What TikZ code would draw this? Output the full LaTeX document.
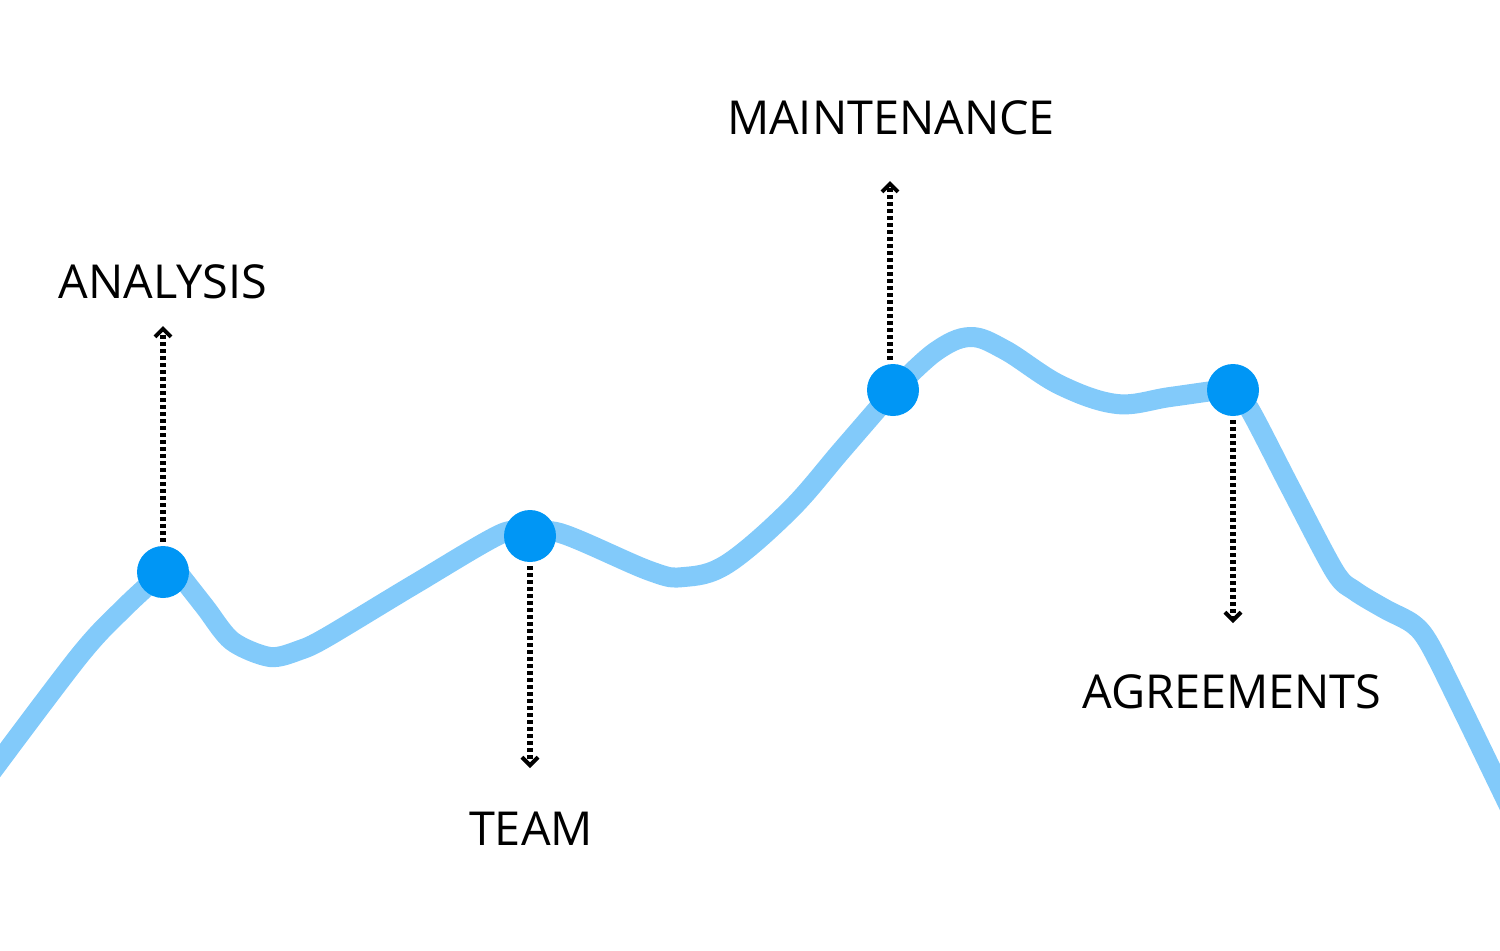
\documentclass[tikz,border=0pt]{standalone}
\usepackage{fontspec}
\setmainfont{Open Sans}
\usetikzlibrary{arrows.meta}
\definecolor{curveblue}{HTML}{82CAFA}
\definecolor{dotblue}{HTML}{0096F5}
\tikzset{
  curve/.style={draw=curveblue, line width=10pt, line join=round},
  milestone/.style={circle, fill=dotblue, minimum size=26pt, inner sep=0pt},
  pointer/.style={line width=2.6pt, dash pattern=on 1.9pt off 1.6pt, -{Straight Barb[length=4pt,width=8pt,line width=2pt]}},
  lbl/.style={font=\fontsize{23.4}{28}\selectfont, text=black, inner sep=0pt}
}
\begin{document}
\begin{tikzpicture}[x=0.5pt,y=-0.5pt]
\useasboundingbox (0,0) rectangle (1500,950);
\begin{scope}
\clip (0,0) rectangle (1500,950);
\draw[curve] plot[smooth, tension=0.55] coordinates {
 (-10,774) (80,655) (125,607) (163,572)};
\draw[curve] plot[smooth, tension=0.5] coordinates {
 (176,570) (205,607) (232,641) (270,657) (300,650) (327,637) (415,584) (503,533) (530,536)};
\draw[curve] plot[smooth, tension=0.6] coordinates {
 (530,536) (560,533) (650,571) (684,577) (727,564)
 (790,510) (842,450) (893,391)};
\draw[curve] plot[smooth, tension=0.6] coordinates {
 (893,391) (935,352) (970,337) (1005,350) (1060,385) (1117,404)
 (1170,397) (1233,388)};
\draw[curve] plot[smooth, tension=0.5] coordinates {
 (1233,390) (1250,410) (1290,487) (1335,572) (1355,591) (1385,609) (1413,624)
 (1430,645) (1465,715) (1510,808)};
\end{scope}
\node[milestone] (a) at (163,572) {};
\node[milestone] (t) at (530,536) {};
\node[milestone] (m) at (893,390) {};
\node[milestone] (g) at (1233,390) {};
\coordinate (ae) at (163,326);
\coordinate (te) at (530,768);
\coordinate (me) at (890,181);
\coordinate (ge) at (1233,623);
\draw[pointer] ([yshift=2pt]a.north) -- (ae);
\draw[pointer] ([yshift=-2pt]t.south) -- (te);
\draw[pointer] ([xshift=-1.5pt,yshift=2pt]m.north) -- (me);
\draw[pointer] ([yshift=-2pt]g.south) -- (ge);
\node[lbl] (la) at (163,282) {ANALYSIS};
\node[lbl] (lt) at (531,829) {TEAM};
\node[lbl] (lm) at (891,118) {MAINTENANCE};
\node[lbl] (lg) at (1232,692) {AGREEMENTS};
\end{tikzpicture}
\end{document}
